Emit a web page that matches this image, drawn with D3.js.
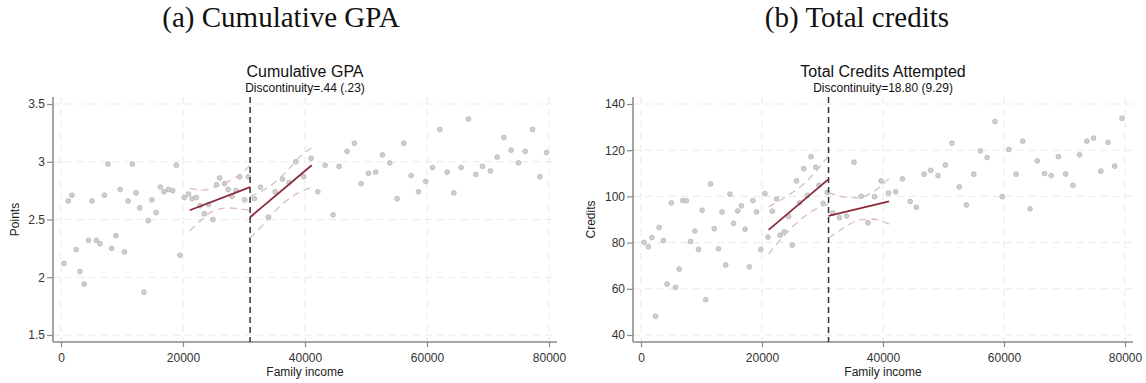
<!DOCTYPE html>
<html lang="en">
<head>
<meta charset="UTF-8">
<title>rd plots</title>
<script src="https://cdn.jsdelivr.net/npm/d3@7"></script>
<style>
  body { margin: 0; background: #fff; }
  text { font-family: "Liberation Sans", Arial, sans-serif; fill: #222; }
  .head { font-family: "Liberation Serif", "Times New Roman", serif; font-size: 29px; fill: #111; }
  .ptitle { font-size: 16px; fill: #111; }
  .psub { font-size: 12px; fill: #111; }
  .axlab { font-size: 12px; }
  .axis text { font-size: 12px; fill: #333; }
  .axis line { stroke: #888; stroke-width: 1.2; }
</style>
</head>
<body>
<svg width="1146" height="383" id="mainsvg"></svg>
<script>
// ---- data (income in dollars) ----
const xTicks = [0, 20000, 40000, 60000, 80000];
const cutoff = 31000;

// (a) cumulative GPA bins
const gpaIncome = [500, 1200, 1800, 2500, 3100, 3800, 4500, 5100, 5800, 6400, 7100, 7700, 8300, 9000, 9700, 10400, 11000, 11700, 12300, 12900,
  13600, 14300, 14900, 15600, 16300, 16900, 17600, 18300, 18900, 19500, 20200, 20900, 21500, 22200, 22800, 23500, 24200, 24900, 25500, 26000,
  26800, 27400, 28000, 28700, 29300, 30100, 30700, 31700, 32700, 34000, 35100, 36300, 37400, 38500, 39800, 41000, 42100, 43300, 44600, 45600,
  46900, 48100, 49200, 50400, 51600, 52700, 53900, 55100, 56200, 57400, 58600, 59800, 60900, 62100, 63300, 64400, 65600, 66800, 68000, 69100,
  70400, 71500, 72600, 73800, 75000, 76100, 77300, 78500, 79600];
const gpaValue = [2.12, 2.66, 2.71, 2.24, 2.05, 1.94, 2.32, 2.66, 2.32, 2.29, 2.71, 2.98, 2.25, 2.36, 2.76, 2.22, 2.66, 2.98, 2.73, 2.60,
  1.87, 2.49, 2.67, 2.56, 2.78, 2.74, 2.76, 2.75, 2.97, 2.19, 2.69, 2.72, 2.68, 2.69, 2.62, 2.55, 2.63, 2.50, 2.80, 2.86,
  2.81, 2.76, 2.70, 2.75, 2.87, 2.67, 2.87, 2.68, 2.78, 2.52, 2.74, 2.85, 2.82, 3.00, 2.87, 3.03, 2.74, 2.97, 2.54, 2.96,
  3.09, 3.16, 2.81, 2.90, 2.91, 3.06, 2.99, 2.68, 3.16, 2.88, 2.74, 2.83, 2.95, 3.28, 2.91, 2.73, 2.95, 3.37, 2.89, 2.96,
  2.92, 3.04, 3.21, 3.10, 2.99, 3.09, 3.28, 2.87, 3.08];
const gpaFitLeft = [[21100, 2.58], [31000, 2.78]];
const gpaFitRight = [[31000, 2.52], [41100, 2.97]];
const gpaBandLeftUp = [[21100, 2.77], [23100, 2.755], [25200, 2.78], [27400, 2.83], [29600, 2.90], [31000, 2.97]];
const gpaBandLeftLow = [[21100, 2.40], [23100, 2.50], [25200, 2.58], [27400, 2.60], [29600, 2.59], [31000, 2.58]];
const gpaBandRightUp = [[31000, 2.70], [34000, 2.78], [36700, 2.90], [39500, 3.06], [41100, 3.12]];
const gpaBandRightLow = [[31000, 2.34], [33400, 2.47], [36200, 2.63], [38900, 2.73], [41100, 2.78]];
const gpaTicks = [1.5, 2, 2.5, 3, 3.5];

// (b) total credits attempted bins
const crIncome = [500, 1200, 1800, 2400, 3000, 3700, 4300, 5000, 5700, 6300, 6900, 7500, 8200, 8900, 9500, 10100, 10700, 11500, 12100, 12800,
  13400, 14000, 14700, 15300, 16000, 16600, 17200, 17900, 18500, 19100, 19800, 20500, 21000, 21700, 22400, 23000, 23700, 24400, 25000, 25700,
  26200, 26900, 27500, 28100, 28900, 29400, 30100, 30800, 31700, 32800, 34000, 35200, 36400, 37500, 38600, 39700, 40900, 42100, 43200, 44500,
  45500, 46800, 47900, 49100, 50300, 51400, 52600, 53800, 55000, 56100, 57200, 58500, 59700, 60800, 62000, 63100, 64300, 65500, 66700, 67800,
  69000, 70200, 71400, 72500, 73700, 74800, 76000, 77200, 78300, 79500];
const crValue = [80.1, 78.2, 82.2, 48.1, 86.5, 80.9, 62.0, 97.2, 60.6, 68.5, 98.2, 98.1, 80.5, 85.0, 77.0, 94.0, 55.3, 105.4, 86.0, 77.3,
  93.2, 70.3, 101.0, 88.3, 93.7, 95.9, 85.8, 69.5, 98.2, 93.3, 77.0, 101.2, 82.4, 93.6, 98.9, 83.2, 84.7, 91.3, 78.9, 106.7,
  97.2, 112.0, 100.4, 117.2, 112.6, 104.8, 97.0, 101.7, 92.9, 90.8, 91.5, 114.8, 100.1, 88.6, 99.9, 106.7, 101.4, 102.0, 107.6, 97.8,
  95.3, 109.6, 111.3, 109.0, 113.6, 123.0, 104.1, 96.3, 109.6, 119.7, 116.8, 132.4, 99.9, 120.3, 109.6, 123.9, 94.6, 115.4, 109.9, 109.0,
  117.2, 109.7, 104.8, 118.0, 123.9, 125.2, 110.9, 123.4, 113.1, 133.8];
const crFitLeft = [[21100, 85.5], [31000, 107.5]];
const crFitRight = [[31000, 91.6], [41000, 97.9]];
const crBandLeftUp = [[21100, 95.5], [23500, 99.1], [26300, 104.1], [29100, 111.4], [31000, 117.8]];
const crBandLeftLow = [[21100, 75.0], [23500, 82.6], [26300, 89.8], [29100, 94.8], [31000, 96.7]];
const crBandRightUp = [[31000, 101.6], [33400, 99.8], [35700, 99.4], [38400, 102.0], [41000, 107.8]];
const crBandRightLow = [[31000, 81.9], [33400, 86.2], [36200, 89.8], [38400, 90.1], [41000, 88.0]];
const crTicks = [40, 60, 80, 100, 120, 140];

const svg = d3.select('#mainsvg');
const frameTop = 97, frameBottom = 342;
const inset = 8;

function panel(cfg) {
    const g = svg.append('g');
    const x = d3.scaleLinear().domain([0, 80000]).range([cfg.left + inset, cfg.right - inset]);
    const y = d3.scaleLinear().domain(d3.extent(cfg.yTicks)).range([frameBottom - 7, frameTop + 7]);

    // big header
    svg.append('text').attr('class', 'head')
        .attr('x', cfg.headX).attr('y', 27).attr('text-anchor', 'middle').text(cfg.head);

    // grid
    g.selectAll('.vgrid').data(xTicks).join('line')
        .attr('x1', d => x(d)).attr('x2', d => x(d))
        .attr('y1', frameTop).attr('y2', frameBottom)
        .attr('stroke', '#e9e9e9').attr('stroke-dasharray', '7,5');
    g.selectAll('.hgrid').data(cfg.yTicks).join('line')
        .attr('x1', cfg.left).attr('x2', cfg.right)
        .attr('y1', d => y(d)).attr('y2', d => y(d))
        .attr('stroke', '#e9e9e9').attr('stroke-dasharray', '7,5');

    // axes
    const xAxis = d3.axisBottom(x).tickValues(xTicks).tickSize(5).tickPadding(6).tickFormat(d => d);
    g.append('g').attr('class', 'axis').attr('transform', `translate(0, ${frameBottom})`).call(xAxis)
        .call(a => a.select('.domain').remove());
    const yAxis = d3.axisLeft(y).tickValues(cfg.yTicks).tickSize(6).tickPadding(2).tickFormat(d => d);
    g.append('g').attr('class', 'axis').attr('transform', `translate(${cfg.left}, 0)`).call(yAxis)
        .call(a => a.select('.domain').remove());
    g.append('line').attr('x1', cfg.left).attr('x2', cfg.right).attr('y1', frameBottom).attr('y2', frameBottom)
        .attr('stroke', '#888').attr('stroke-width', 1.5);
    g.append('line').attr('x1', cfg.left).attr('x2', cfg.left).attr('y1', frameTop).attr('y2', frameBottom)
        .attr('stroke', '#888').attr('stroke-width', 1.5);

    // scatter
    const pts = cfg.xs.map((d, i) => [d, cfg.ys[i]]);
    g.selectAll('.dot').data(pts).join('circle')
        .attr('cx', d => x(d[0])).attr('cy', d => y(d[1])).attr('r', 2.4)
        .attr('fill', '#cfcfcf').attr('stroke', '#b5b5b5').attr('stroke-width', 0.8);

    // cutoff
    g.append('line').attr('x1', x(cutoff)).attr('x2', x(cutoff))
        .attr('y1', frameTop).attr('y2', frameBottom)
        .attr('stroke', '#333').attr('stroke-width', 1.5).attr('stroke-dasharray', '6,4');

    // fit and bands
    const line = d3.line().x(d => x(d[0])).y(d => y(d[1]));
    const curve = d3.line().x(d => x(d[0])).y(d => y(d[1])).curve(d3.curveMonotoneX);
    g.selectAll('.band').data(cfg.bands).join('path')
        .attr('d', curve).attr('fill', 'none')
        .attr('stroke', '#dcbcbc').attr('stroke-width', 1.3).attr('stroke-dasharray', '7,5');
    g.selectAll('.fit').data(cfg.fits).join('path')
        .attr('d', line).attr('fill', 'none')
        .attr('stroke', '#8c2a38').attr('stroke-width', 1.8);

    // titles
    const cx = (cfg.left + cfg.right) / 2;
    svg.append('text').attr('class', 'ptitle').attr('x', cx).attr('y', 77).attr('text-anchor', 'middle').text(cfg.title);
    svg.append('text').attr('class', 'psub').attr('x', cx).attr('y', 92).attr('text-anchor', 'middle').text(cfg.sub);
    svg.append('text').attr('class', 'axlab').attr('x', cx).attr('y', 376).attr('text-anchor', 'middle').text('Family income');
    svg.append('text').attr('class', 'axlab')
        .attr('transform', `translate(${cfg.yLabX}, ${(frameTop + frameBottom) / 2}) rotate(-90)`)
        .attr('text-anchor', 'middle').text(cfg.yLab);
}

panel({
    left: 53, right: 557, headX: 281, head: '(a) Cumulative GPA',
    title: 'Cumulative GPA', sub: 'Discontinuity=.44 (.23)', yLab: 'Points', yLabX: 19,
    yTicks: gpaTicks, xs: gpaIncome, ys: gpaValue,
    fits: [gpaFitLeft, gpaFitRight],
    bands: [gpaBandLeftUp, gpaBandLeftLow, gpaBandRightUp, gpaBandRightLow]
});
panel({
    left: 633, right: 1133, headX: 857, head: '(b) Total credits',
    title: 'Total Credits Attempted', sub: 'Discontinuity=18.80 (9.29)', yLab: 'Credits', yLabX: 595,
    yTicks: crTicks, xs: crIncome, ys: crValue,
    fits: [crFitLeft, crFitRight],
    bands: [crBandLeftUp, crBandLeftLow, crBandRightUp, crBandRightLow]
});
</script>
</body>
</html>
